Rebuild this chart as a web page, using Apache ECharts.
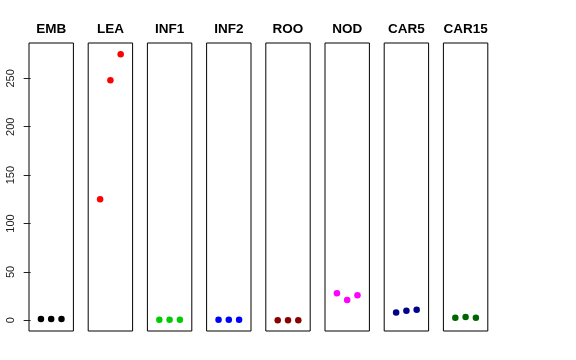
<!DOCTYPE html>
<html>
<head>
<meta charset="utf-8">
<script src="https://cdn.jsdelivr.net/npm/echarts@6/dist/echarts.min.js"></script>
<style>html,body{margin:0;padding:0;background:#fff}#c{width:576px;height:360px}</style>
</head>
<body>
<div id="c"></div>
<script>
// Data
const groups = ['EMB', 'LEA', 'INF1', 'INF2', 'ROO', 'NOD', 'CAR5', 'CAR15'];
const EMB = [1.3, 1.3, 1.3];
const LEA = [125, 248, 275];
const INF1 = [0.6, 0.6, 0.6];
const INF2 = [0.6, 0.6, 0.6];
const ROO = [0.0, 0.0, 0.0];
const NOD = [28, 21, 26];
const CAR5 = [8, 10, 11];
const CAR15 = [2.7, 3.4, 2.7];
const replicates = [1, 2, 3];
const yTicks = [0, 50, 100, 150, 200, 250];

const values = [EMB, LEA, INF1, INF2, ROO, NOD, CAR5, CAR15];
const colors = ['#000000', '#ff0000', '#00cd00', '#0000ff', '#8b0000', '#ff00ff', '#00008b', '#006400'];

const gLeft0 = 29, gPitch = 59.2, gW = 44.4, gTop = 43, gH = 288;
const yMin = -11.05, yMax = 286.5;

const grid = [], xAxis = [], yAxis = [], series = [], graphic = [];
groups.forEach((g, i) => {
  const l = gLeft0 + i * gPitch;
  grid.push({left: l, top: gTop, width: gW, height: gH, show: true, borderColor: '#000', borderWidth: 1, backgroundColor: 'transparent', containLabel: false});
  xAxis.push({type: 'value', gridIndex: i, min: -0.16, max: 4.16, show: false});
  yAxis.push({
    type: 'value', gridIndex: i, min: yMin, max: yMax, show: i === 0,
    axisLine: {show: false},
    splitLine: {show: false},
    axisTick: {show: true, length: 7, lineStyle: {color: '#222', width: 1}, customValues: yTicks},
    axisLabel: {show: true, rotate: 90, margin: 13, fontSize: 11, color: '#222', fontFamily: 'Liberation Sans', customValues: yTicks}
  });
  series.push({
    type: 'scatter', xAxisIndex: i, yAxisIndex: i,
    data: replicates.map((r, k) => [r, values[i][k]]),
    symbol: 'circle', symbolSize: 6.5,
    itemStyle: {color: colors[i], opacity: 1},
    silent: true
  });
  graphic.push({
    type: 'text', x: l + gW / 2, y: 29,
    style: {text: g, font: 'bold 13.5px "Liberation Sans", Arial, sans-serif', textAlign: 'center', textVerticalAlign: 'middle', fill: '#000'}
  });
});

const chart = echarts.init(document.getElementById('c'), null, {renderer: 'canvas'});
chart.setOption({animation: false, grid, xAxis, yAxis, series, graphic});
</script>
</body>
</html>
